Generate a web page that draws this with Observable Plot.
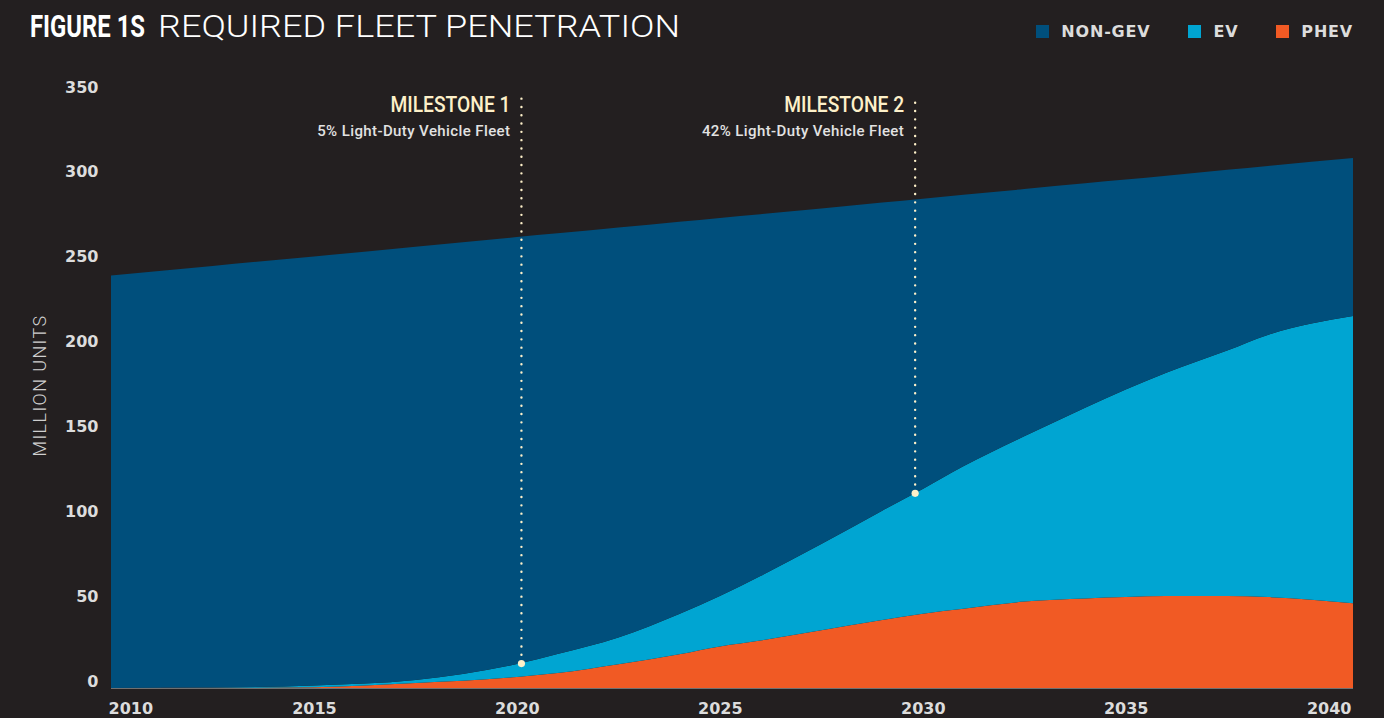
<!DOCTYPE html>
<html>
<head>
<meta charset="utf-8">
<script src="https://cdn.jsdelivr.net/npm/d3@7"></script>
<script src="https://cdn.jsdelivr.net/npm/@observablehq/plot@0.6"></script>
<style>
  html, body { margin: 0; padding: 0; background: #231f20; }
  #wrap { position: relative; width: 1384px; height: 718px; overflow: hidden; background: #231f20; }
  #header { position: relative; height: 60px; }
  #title { position: absolute; left: 30px; top: 8px; font-size: 31px; line-height: 38px; color: #ffffff; white-space: nowrap; font-family: Roboto, sans-serif; }
  #title span { display: inline-block; transform-origin: 0 50%; }
  #title .b { font-weight: 700; }
  #title .l { font-weight: 300; position: absolute; left: 128px; top: 0; }
  #legend { position: absolute; right: 31px; top: 22px; display: flex; align-items: center; font-family: "DejaVu Sans", sans-serif; font-weight: 700; font-size: 16px; letter-spacing: 0.8px; color: #dcdcdc; }
  .item { display: flex; align-items: center; margin-left: 38px; }
  .sw { width: 13px; height: 13px; margin-right: 12px; }
  svg { display: block; }
</style>
</head>
<body>
<div id="wrap">
  <div id="header">
    <div id="title"><span class="b">FIGURE 1S</span><span class="l">REQUIRED FLEET PENETRATION</span></div>
    <div id="legend"></div>
  </div>
  <div id="chart"></div>
</div>
<script>
// ---- data (million units) ----
const years  = [2010, 2012.5, 2015, 2017.5, 2020, 2021, 2022.5, 2024, 2025, 2026, 2027.5, 2029, 2030, 2031, 2032.5, 2034, 2035, 2036, 2037.5, 2038.5, 2040.6];
const phev   = [0,    0.1,    0.5,  2.9,    6.5,  8.8,  14.0,   19.9, 24.5, 28,   34,     40,   43.8, 46.7, 50.9,   52.8, 53.6, 54.2, 54.2,   53.6,   50];
const ev     = [0,    0.2,    1.0,  1.8,    7.6,  11.2, 15.8,   23.7, 29.7, 38,   50.9,   64.5, 73.5, 83.9, 97.4,   112.4,122.3,131.5,144.6,  154.4,  169.2];
const nonGev = [243,  248.4,  252.8,255.3,  251.6,247.9,241.5,  231.1,222.8,213.2,197.7,  181.5,171,  160,  145.7,  132.2,123.7,116.2,106.5,  99.6,   93.1];

const seriesNames  = ["PHEV", "EV", "NON-GEV"];
const seriesColors = ["#f15a24", "#00a5d2", "#004f7c"];
const legendOrder  = ["NON-GEV", "EV", "PHEV"];

const xTicks = [2010, 2015, 2020, 2025, 2030, 2035, 2040];
const yTicks = [0, 50, 100, 150, 200, 250, 300, 350];

const milestoneLabels = ["MILESTONE 1", "MILESTONE 2"];
const milestoneNotes  = ["5% Light-Duty Vehicle Fleet", "42% Light-Duty Vehicle Fleet"];
const milestoneYears  = [2020.1, 2029.8];
const milestoneValues = [14.7, 115];

const yLabel = "MILLION UNITS";

// ---- build tables ----
const seriesValues = { "PHEV": phev, "EV": ev, "NON-GEV": nonGev };
const table = [];
years.forEach((yr, i) => {
  seriesNames.forEach(s => table.push({ year: yr, series: s, value: seriesValues[s][i] }));
});
const milestones = milestoneLabels.map((l, i) => ({
  label: l, note: milestoneNotes[i], year: milestoneYears[i], value: milestoneValues[i]
}));

// ---- legend ----
const legend = document.getElementById("legend");
legendOrder.forEach(name => {
  const it = document.createElement("div");
  it.className = "item";
  const sw = document.createElement("div");
  sw.className = "sw";
  sw.style.background = seriesColors[seriesNames.indexOf(name)];
  const tx = document.createElement("span");
  tx.textContent = name;
  it.appendChild(sw); it.appendChild(tx);
  legend.appendChild(it);
});

const cream = "#fdf0c9";
const axisFont = { fontSize: 16, fontWeight: 700, fill: "#dcdcdc", fontFamily: "DejaVu Sans, sans-serif" };

const chart = Plot.plot({
  width: 1384,
  height: 658,
  marginTop: 34,
  marginBottom: 30,
  marginLeft: 111,
  marginRight: 31,
  style: { background: "transparent", overflow: "visible" },
  x: { domain: [2010, 2040.6] },
  y: { domain: [0, 350] },
  color: { domain: seriesNames, range: seriesColors },
  marks: [
    Plot.areaY(table, { x: "year", y: "value", fill: "series", z: "series", order: seriesNames, curve: "monotone-x" }),
    Plot.ruleY([0], { stroke: "#707070", strokeWidth: 1 }),
    Plot.axisX({ ticks: xTicks, tickSize: 0, tickPadding: 14, tickFormat: d => String(d), label: null, ...axisFont }),
    Plot.axisY({ ticks: yTicks, tickSize: 0, tickPadding: 13, lineAnchor: "bottom", dy: -2, label: null, ...axisFont }),
    Plot.ruleX(milestones, { x: "year", y1: "value", y2: 348, stroke: cream, strokeWidth: 2.4, strokeDasharray: "0 8.3", strokeLinecap: "round" }),
    Plot.dot(milestones, { x: "year", y: "value", r: 3.6, fill: cream, stroke: null }),
    Plot.text(milestones, { x: "year", text: "label", frameAnchor: "top", dy: 2, dx: -11, textAnchor: "end",
      fill: cream, fontSize: 22, fontWeight: 500, fontFamily: "Roboto, sans-serif" }),
    Plot.text(milestones, { x: "year", text: "note", frameAnchor: "top", dy: 31, dx: -11, textAnchor: "end",
      fill: "#e2e2e2", fontSize: 15, fontWeight: 500, fontFamily: "Roboto, sans-serif" }),
    Plot.text([yLabel], { frameAnchor: "left", rotate: -90, dx: -71, dy: -6, textAnchor: "middle", text: d => d,
      fill: "#cfcfcf", fontSize: 18, fontWeight: 300, fontFamily: "Roboto, sans-serif" })
  ]
});

// first x tick label sits inside the frame edge
const xLabels = d3.select(chart).selectAll('g[aria-label="x-axis tick label"] text').nodes();
if (xLabels.length) d3.select(xLabels[0]).attr("text-anchor", "start").attr("dx", -3);

// typography tweaks: condensed milestone headings, spaced notes and axis title
d3.select(chart).selectAll("text").each(function() {
  const t = this.textContent;
  if (milestoneLabels.includes(t)) {
    d3.select(this).attr("textLength", 120).attr("lengthAdjust", "spacingAndGlyphs");
  } else if (milestoneNotes.includes(t)) {
    d3.select(this).style("letter-spacing", "0.4px");
  } else if (t === yLabel) {
    d3.select(this).style("letter-spacing", "1.4px");
  }
});

document.getElementById("chart").appendChild(chart);

// fit title parts to the original's widths
function fitWidth(el, target) {
  const w = el.getBoundingClientRect().width;
  if (w > 0) el.style.transform = `scaleX(${target / w})`;
}
fitWidth(document.querySelector("#title .b"), 115);
fitWidth(document.querySelector("#title .l"), 522);
</script>
</body>
</html>
